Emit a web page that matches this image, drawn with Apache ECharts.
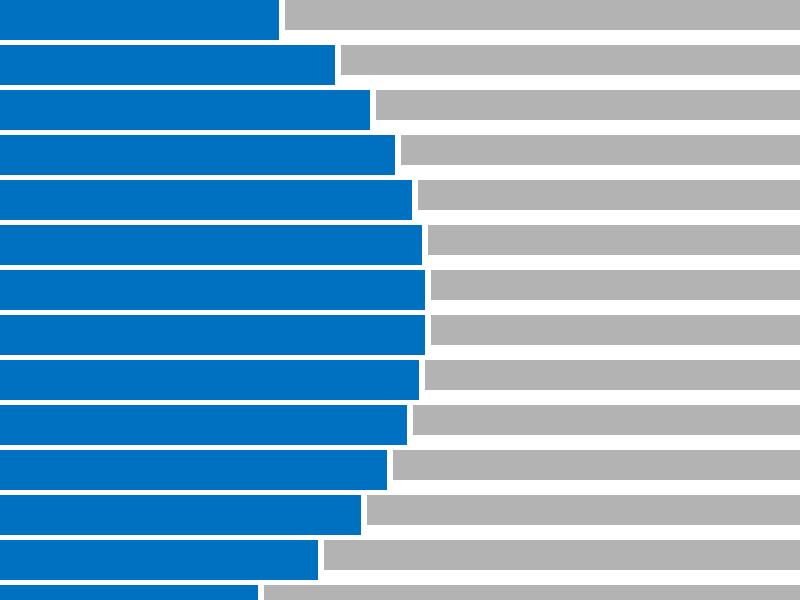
<!DOCTYPE html>
<html>
<head>
<meta charset="utf-8">
<script src="https://cdn.jsdelivr.net/npm/echarts@6/dist/echarts.min.js"></script>
<style>html,body{margin:0;padding:0;background:#fff}#c{width:800px;height:600px}</style>
</head>
<body>
<div id="c"></div>
<script>
var categories = ['1','2','3','4','5','6','7','8','9','10','11','12','13','14'];
var blueValues = [279, 335, 370, 395, 412, 422, 425, 425, 419, 407, 387, 361, 318, 258];
var grayValues = [600, 600, 600, 600, 600, 600, 600, 600, 600, 600, 600, 600, 600, 600];

var GAP = 6, BLUE_H = 40, GRAY_H = 30;
var chart = echarts.init(document.getElementById('c'), null, {renderer: 'canvas'});

function makeRender(kind) {
  return function (params, api) {
    var idx = api.value(0);
    var blue = api.value(1);
    var gray = api.value(2);
    var band = api.size([0, 1])[1];
    var center = api.coord([0, idx]);
    var top = center[1] - band / 2;
    var x0, x1, h, color;
    if (kind === 'blue') {
      x0 = api.coord([0, idx])[0];
      x1 = api.coord([blue, idx])[0];
      h = BLUE_H; color = '#0070C0';
    } else {
      x0 = api.coord([blue + GAP, idx])[0];
      x1 = api.coord([blue + GAP + gray, idx])[0];
      h = GRAY_H; color = '#B3B3B3';
    }
    return {type: 'rect', shape: {x: x0, y: top, width: x1 - x0, height: h}, style: {fill: color}};
  };
}

var data = categories.map(function (c, i) { return [i, blueValues[i], grayValues[i]]; });

chart.setOption({
  animation: false,
  grid: {left: 0, right: 0, top: 0, height: 630, outerBoundsMode: 'none', containLabel: false},
  xAxis: {type: 'value', min: 0, max: 800, show: false},
  yAxis: {type: 'category', data: categories, inverse: true, show: false},
  series: [
    {type: 'custom', renderItem: makeRender('blue'), encode: {x: 1, y: 0}, data: data, clip: false},
    {type: 'custom', renderItem: makeRender('gray'), encode: {x: 1, y: 0}, data: data, clip: false}
  ]
});
</script>
</body>
</html>
